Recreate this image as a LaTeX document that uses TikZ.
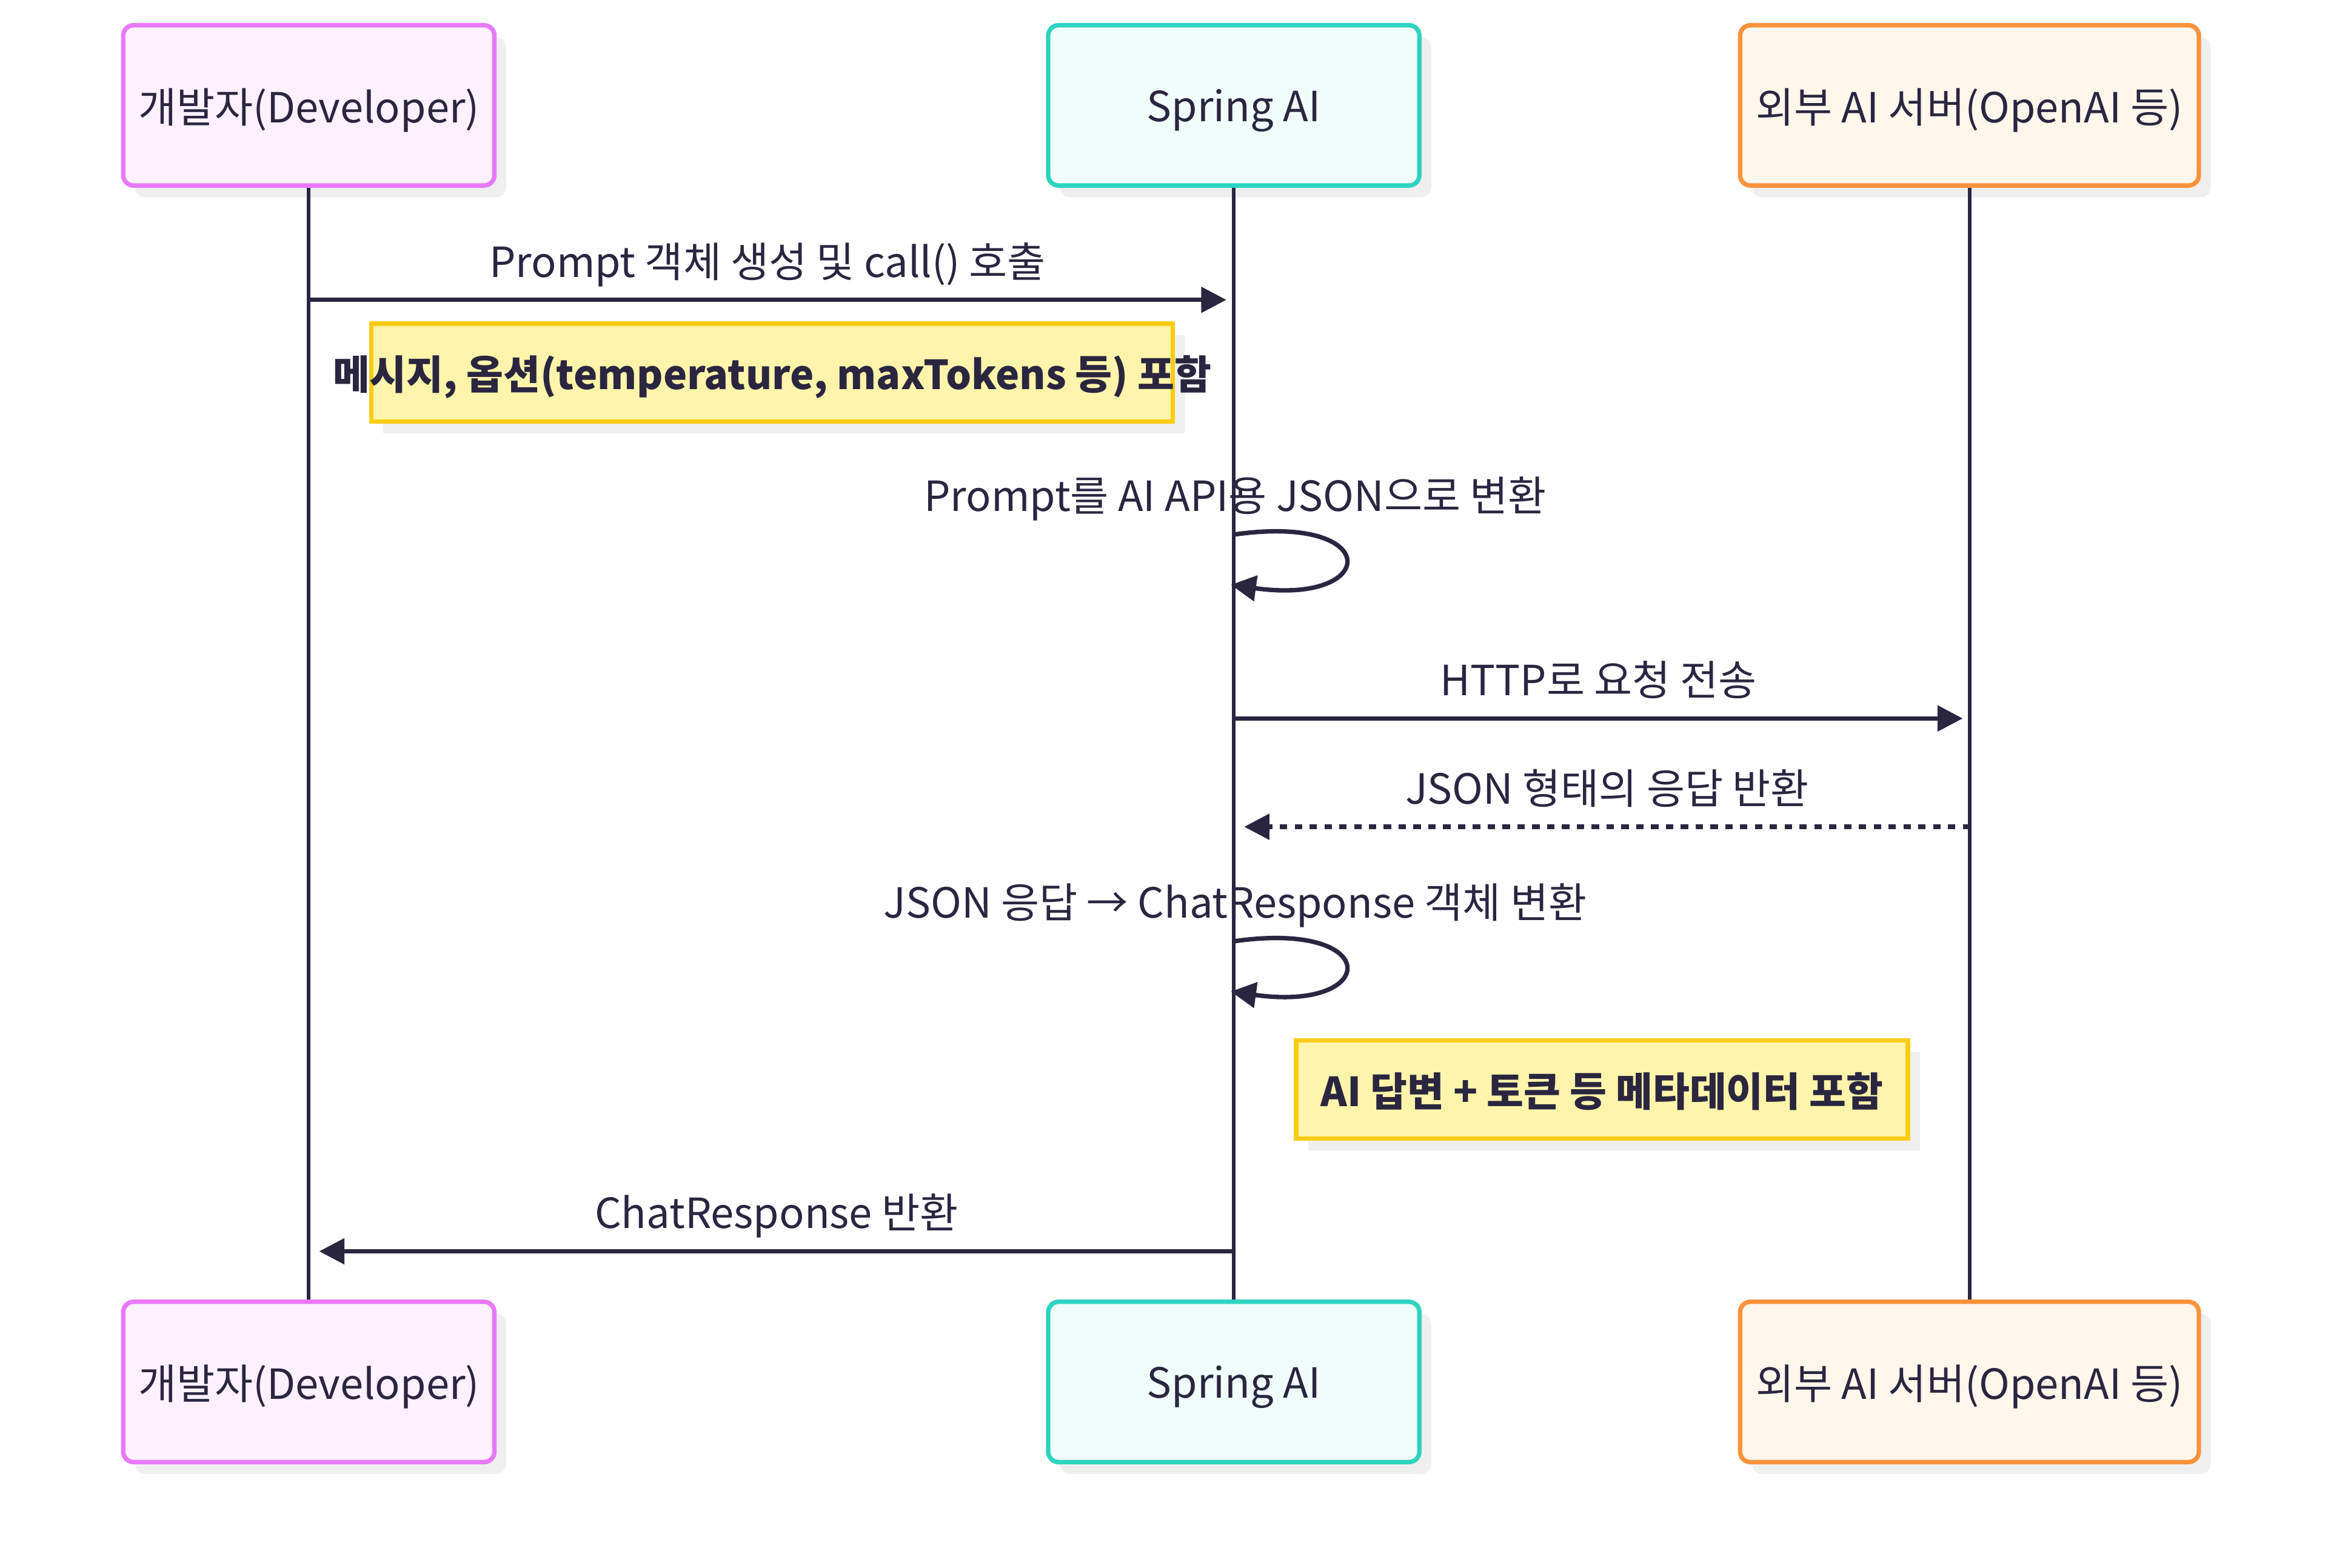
\documentclass[tikz,border=0pt]{standalone}
\usepackage{fontspec}
\setmainfont{Noto Sans CJK KR}
\usepackage{tikz}
\usetikzlibrary{arrows.meta,shadows}

\definecolor{ink}{HTML}{2A2640}
\definecolor{devline}{HTML}{E879F9}
\definecolor{devfill}{HTML}{FDF1FE}
\definecolor{springline}{HTML}{2DD4BF}
\definecolor{springfill}{HTML}{F0FDFA}
\definecolor{extline}{HTML}{FB923C}
\definecolor{extfill}{HTML}{FFF6EC}
\definecolor{noteline}{HTML}{FACC15}
\definecolor{notefill}{HTML}{FFF4AB}
\definecolor{shade}{HTML}{EFEFEF}

\begin{document}
\begin{tikzpicture}[
		x=1pt, y=-1pt,
		every node/.style = {font=\fontsize{28}{33}\selectfont, text=ink, text depth=0pt},
		actor/.style = {shape=rectangle, rounded corners=7pt, draw, line width=3pt,
				minimum width=250pt, minimum height=108pt, inner sep=0pt,
				drop shadow={shadow xshift=8pt, shadow yshift=-8pt, fill=shade, opacity=1}},
		dev/.style = {actor, draw=devline, fill=devfill},
		spring/.style = {actor, draw=springline, fill=springfill},
		ext/.style = {actor, draw=extline, fill=extfill, minimum width=309pt},
		notebox/.style = {shape=rectangle, draw=noteline, fill=notefill, line width=3pt,
				minimum height=66pt, inner sep=0pt,
				drop shadow={shadow xshift=8pt, shadow yshift=-8pt, fill=shade, opacity=1}},
		notetext/.style = {font=\bfseries\fontsize{27}{32}\selectfont, inner sep=0pt},
		lbl/.style = {inner sep=0pt, yshift=27pt},
		life/.style = {draw=ink, line width=2.5pt},
		msg/.style = {draw=ink, line width=3pt, -{Triangle[length=17pt, width=17pt]}},
		reply/.style = {msg, dash pattern=on 5pt off 5pt}
	]

	\useasboundingbox (0,0) rectangle (1568,1056);

	\node[dev] (dev) at (208,71) {개발자(Developer)};
	\node[spring] (spring) at (831,71) {Spring AI};
	\node[ext] (ext) at (1326.5,71) {외부 AI 서버(OpenAI 등)};

	\node[dev] (devb) at (208,931) {개발자(Developer)};
	\node[spring] (springb) at (831,931) {Spring AI};
	\node[ext] (extb) at (1326.5,931) {외부 AI 서버(OpenAI 등)};

	\draw[life] (dev.south) -- (devb.north);
	\draw[life] (spring.south) -- (springb.north);
	\draw[life] (ext.south) -- (extb.north);

	\coordinate (m1a) at (208,202);
	\coordinate (m1b) at (826,202);
	\draw[msg] (m1a) -- node[lbl] {Prompt 객체 생성 및 call() 호출} (m1b);

	\node[notebox, minimum width=540pt] (n1) at (520,251) {};
	\node[notetext] (n1t) at (n1) {메시지, 옵션(temperature, maxTokens 등) 포함};

	\coordinate (s1a) at (832,360);
	\coordinate (s1b) at (829,394);
	\draw[msg] (s1a) node[lbl] {Prompt를 AI API용 JSON으로 변환}
		.. controls +(100,-14) and +(100,14) .. (s1b);

	\coordinate (m3a) at (831,484);
	\coordinate (m3b) at (1322,484);
	\draw[msg] (m3a) -- node[lbl] {HTTP로 요청 전송} (m3b);

	\coordinate (m4a) at (1327,557);
	\coordinate (m4b) at (838,557);
	\draw[reply] (m4a) -- node[lbl] {JSON 형태의 응답 반환} (m4b);

	\coordinate (s2a) at (832,634);
	\coordinate (s2b) at (829,668);
	\draw[msg] (s2a) node[lbl] {JSON 응답 → ChatResponse 객체 변환}
		.. controls +(100,-14) and +(100,14) .. (s2b);

	\node[notebox, minimum width=412pt] (n2) at (1079,734) {};
	\node[notetext] (n2t) at (n2) {AI 답변 + 토큰 등 메타데이터 포함};

	\coordinate (m6a) at (831,843);
	\coordinate (m6b) at (215,843);
	\draw[msg] (m6a) -- node[lbl] {ChatResponse 반환} (m6b);
\end{tikzpicture}
\end{document}
